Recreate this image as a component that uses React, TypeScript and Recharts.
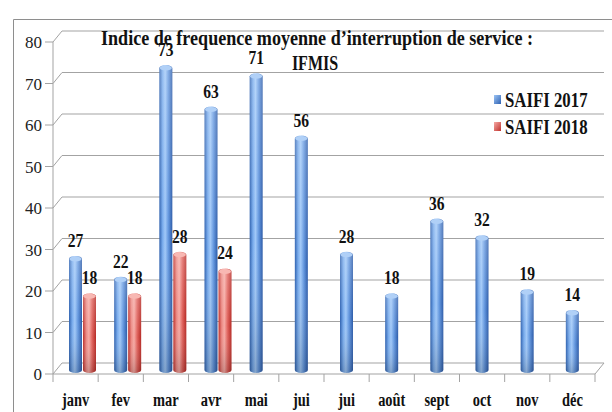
import React from 'react';
import { BarChart, Bar, XAxis, YAxis, CartesianGrid, LabelList } from 'recharts';

const months = ['janv', 'fev', 'mar', 'avr', 'mai', 'jui', 'jui', 'août', 'sept', 'oct', 'nov', 'déc'];
const saifi2017 = [27, 22, 73, 63, 71, 56, 28, 18, 36, 32, 19, 14];
const saifi2018: (number | null)[] = [18, 18, 28, 24, null, null, null, null, null, null, null, null];
const yTicks = [0, 10, 20, 30, 40, 50, 60, 70, 80];
const titleLine1 = 'Indice de frequence moyenne d\u2019interruption de service :';
const titleLine2 = 'IFMIS';
const legendNames = ['SAIFI 2017', 'SAIFI 2018'];

const data = months.map((m, i) => ({ key: `${m}-${i}`, month: m, y2017: saifi2017[i], y2018: saifi2018[i] }));

const FONT = "'Liberation Serif', 'Times New Roman', serif";
const GRID = '#a3a3a3';
const DX = 9;
const DY = 11;

const SText = ({ x, y, size, sx = 0.85, weight = 'bold', anchor = 'middle', fill = '#111', children }: any) => (
  <text
    transform={`translate(${x},${y}) scale(${sx},1)`}
    textAnchor={anchor}
    fontFamily={FONT}
    fontWeight={weight}
    fontSize={size}
    fill={fill}
  >
    {children}
  </text>
);

const gridLine = (p: any) => {
  const { x1, x2, y1, y, height, key } = p;
  const isFloor = Math.abs(y1 - (y + height)) < 0.5;
  let d = `M${x1},${y1} L${x1 + DX},${y1 - DY} L${x2 + DX},${y1 - DY}`;
  if (isFloor) d += ` M${x1},${y1} L${x2},${y1} L${x2 + DX},${y1 - DY}`;
  return <path key={key} d={d} stroke={GRID} strokeWidth={1} fill="none" />;
};

const makeCylinder = (gid: string, cap: string) => (p: any) => {
  const { x, y, width, height } = p;
  if (height == null || !(height > 0) || width == null) return null;
  const rx = width / 2;
  const ry = 3;
  const top = y - 3;
  const bot = y + height - 4;
  const d = `M${x},${top} L${x},${bot} A${rx},${ry} 0 0 0 ${x + width},${bot} L${x + width},${top} A${rx},${ry} 0 0 0 ${x},${top} Z`;
  return (
    <g>
      <path d={d} fill={`url(#${gid})`} />
      <path d={d} fill="url(#gShade)" />
      <ellipse cx={x + rx} cy={top} rx={rx - 0.5} ry={ry - 0.5} fill={cap} />
    </g>
  );
};

const BlueCyl = makeCylinder('gBlue', '#b0d0f7');
const RedCyl = makeCylinder('gRed', '#f8b8b3');

const valueLabel = (p: any) => {
  const { x, y, width, value } = p;
  if (value == null) return null;
  return (
    <SText x={x + width / 2} y={y - 15} size={19} sx={0.82}>
      {value}
    </SText>
  );
};

const XTick = (p: any) => {
  const { x, y, payload, index, visibleTicksCount } = p;
  const off = payload && payload.offset ? payload.offset : 22.6;
  return (
    <g>
      <line x1={x - off} y1={y} x2={x - off} y2={y + 8} stroke={GRID} />
      {index === visibleTicksCount - 1 && <line x1={x + off} y1={y} x2={x + off} y2={y + 8} stroke={GRID} />}
      <SText x={x} y={y + 32} size={19} sx={0.76}>
        {payload.value}
      </SText>
    </g>
  );
};

export default function App() {
  return (
    <div style={{ position: 'absolute', left: 0, top: 0, width: 612, height: 412, background: '#fff' }}>
      <svg width={612} height={412} style={{ position: 'absolute', left: 0, top: 0 }}>
        <defs>
          <linearGradient id="gBlue" x1="0" y1="0" x2="1" y2="0">
            <stop offset="0%" stopColor="#2f62b0" />
            <stop offset="25%" stopColor="#78abec" />
            <stop offset="45%" stopColor="#a0c8f8" />
            <stop offset="70%" stopColor="#6296de" />
            <stop offset="100%" stopColor="#2c5ba8" />
          </linearGradient>
          <linearGradient id="gRed" x1="0" y1="0" x2="1" y2="0">
            <stop offset="0%" stopColor="#bd2f2a" />
            <stop offset="25%" stopColor="#ec8a84" />
            <stop offset="45%" stopColor="#f6aaa4" />
            <stop offset="70%" stopColor="#e0625c" />
            <stop offset="100%" stopColor="#b52924" />
          </linearGradient>
          <linearGradient id="gShade" x1="0" y1="0" x2="0" y2="1">
            <stop offset="0%" stopColor="#ffffff" stopOpacity={0.22} />
            <stop offset="55%" stopColor="#ffffff" stopOpacity={0} />
            <stop offset="100%" stopColor="#000000" stopOpacity={0.18} />
          </linearGradient>
          <linearGradient id="gLegBlue" x1="0" y1="0" x2="1" y2="1">
            <stop offset="0%" stopColor="#9cc4f5" />
            <stop offset="100%" stopColor="#2f62b2" />
          </linearGradient>
          <linearGradient id="gLegRed" x1="0" y1="0" x2="1" y2="1">
            <stop offset="0%" stopColor="#f5aaa5" />
            <stop offset="100%" stopColor="#c0312c" />
          </linearGradient>
        </defs>
      </svg>
      <div style={{ position: 'absolute', left: 0, top: 0 }}>
        <BarChart
          width={612}
          height={412}
          data={data}
          margin={{ top: 42, right: 17, bottom: 8, left: 13 }}
          barSize={13}
          barGap={1}
        >
          <CartesianGrid vertical={false} horizontal={gridLine} />
          <XAxis
            dataKey="key"
            height={30}
            axisLine={false}
            tickLine={false}
            tickSize={0}
            tickMargin={0}
            interval={0}
            tick={(p: any) => <XTick {...p} payload={{ ...p.payload, value: months[p.index] }} />}
          />
          <YAxis
            width={40}
            domain={[0, 80]}
            ticks={yTicks}
            interval={0}
            tickSize={8}
            tickMargin={3}
            axisLine={{ stroke: GRID }}
            tickLine={{ stroke: GRID }}
            tick={{ fontFamily: FONT, fontSize: 17, fill: '#222' }}
          />
          <Bar dataKey="pad" isAnimationActive={false} legendType="none" fill="none" />
          <Bar dataKey="y2017" isAnimationActive={false} shape={BlueCyl}>
            <LabelList dataKey="y2017" content={valueLabel} />
          </Bar>
          <Bar dataKey="y2018" isAnimationActive={false} shape={RedCyl}>
            <LabelList dataKey="y2018" content={valueLabel} />
          </Bar>
        </BarChart>
      </div>
      <svg width={612} height={412} style={{ position: 'absolute', left: 0, top: 0, pointerEvents: 'none' }}>
        <path d="M13.5,412 L13.5,19.5 L612,19.5" stroke="#8e8e8e" strokeWidth={1} fill="none" />
        <text
          x={317}
          y={45}
          textAnchor="middle"
          fontFamily={FONT}
          fontWeight="bold"
          fontSize={20}
          fill="#111"
          textLength={432}
          lengthAdjust="spacingAndGlyphs"
        >
          {titleLine1}
        </text>
        <SText x={315} y={70} size={20} sx={0.8}>
          {titleLine2}
        </SText>
        <rect x={494} y={95} width={7} height={9} fill="url(#gLegBlue)" />
        <SText x={505} y={107} size={21} sx={0.8} anchor="start">
          {legendNames[0]}
        </SText>
        <rect x={494} y={122} width={7} height={9} fill="url(#gLegRed)" />
        <SText x={505} y={134} size={21} sx={0.8} anchor="start">
          {legendNames[1]}
        </SText>
      </svg>
    </div>
  );
}
